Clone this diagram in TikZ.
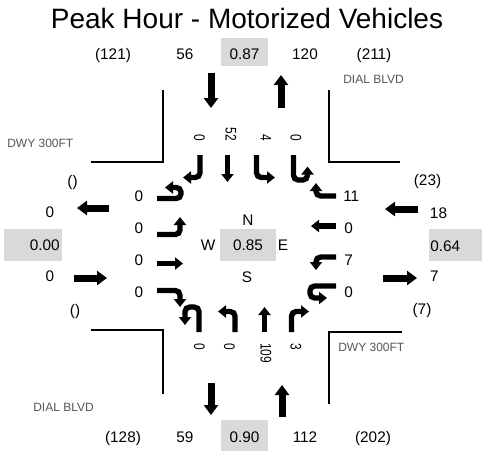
\documentclass[tikz,border=0pt]{standalone}
\usepackage{fontspec}
\setmainfont{Liberation Sans}
\newfontfamily\narrowfont{Liberation Sans}[FakeStretch=0.78]
\usepackage{tikz}
\usetikzlibrary{arrows.meta}
\definecolor{BoxGray}{RGB}{217,217,217}
\definecolor{StreetGray}{RGB}{85,85,85}

\begin{document}
\begin{tikzpicture}[x=0.75pt,y=-0.75pt,
    bigarrow/.style={line width=5.25pt,-{Triangle[width=10.5pt,length=7.5pt]}},
    turnarrow/.style={line width=4pt,rounded corners=3.5pt,-{Triangle[width=9pt,length=6pt]}},
    num/.style={font=\fontsize{11.5}{13}\selectfont,inner sep=0pt,anchor=base},
    vnum/.style={font=\narrowfont\fontsize{11.5}{13}\selectfont,inner sep=0pt,rotate=-90},
    street/.style={StreetGray,font=\fontsize{9}{10}\selectfont,inner sep=0pt,anchor=base west},
    curb/.style={line width=1.5pt}]
  \useasboundingbox (0,0) rectangle (482,451);
  \node[inner sep=0pt,anchor=base,font=\fontsize{21}{24}\selectfont] (title) at (247,28) {Peak Hour - Motorized Vehicles};
  \fill[BoxGray] (221,38) rectangle (268,66);
  \fill[BoxGray] (221,420) rectangle (268,451);
  \fill[BoxGray] (4,229) rectangle (62,261);
  \fill[BoxGray] (429,229) rectangle (482,261);
  \fill[BoxGray] (220,229) rectangle (276,261);
  \draw[curb] (163,90) -- (163,162) -- (91,162);
  \draw[curb] (329,90) -- (329,162) -- (400,162);
  \draw[curb] (91,330) -- (163,330) -- (163,394);
  \draw[curb] (402,332) -- (329,332) -- (329,404);
  \node[num] (nTotIn) at (113,59.5) {(121)};
  \node[num] (nExit) at (185,59.5) {56};
  \node[num] (nPhf) at (244.5,59.5) {0.87};
  \node[num] (nEnter) at (305,59.5) {120};
  \node[num] (nTotOut) at (374,59.5) {(211)};
  \node[num] (sTotOut) at (123,442) {(128)};
  \node[num] (sExit) at (185,442) {59};
  \node[num] (sPhf) at (244.5,442) {0.90};
  \node[num] (sEnter) at (305,442) {112};
  \node[num] (sTotIn) at (373,442) {(202)};
  \node[num] (wTotOut) at (72.5,186) {()};
  \node[num] (wExit) at (50,217) {0};
  \node[num,anchor=base east] (wPhf) at (60,250) {0.00};
  \node[num] (wEnter) at (50,281) {0};
  \node[num] (wTotIn) at (75,315) {()};
  \node[num] (eTotIn) at (427.5,185) {(23)};
  \node[num] (eEnter) at (438.5,218) {18};
  \node[num,anchor=base west] (ePhf) at (430,251) {0.64};
  \node[num] (eExit) at (434.5,281) {7};
  \node[num] (eTotOut) at (422,314) {(7)};
  \node[street] (stNE) at (343,83.5) {DIAL BLVD};
  \node[street] (stNW) at (7,147) {DWY 300FT};
  \node[street] (stSW) at (33,411) {DIAL BLVD};
  \node[street] (stSE) at (338,351) {DWY 300FT};
  \node[num] (cN) at (248,225) {N};
  \node[num] (cW) at (208,250) {W};
  \node[num] (cPhf) at (248,250) {0.85};
  \node[num] (cE) at (283,250) {E};
  \node[num] (cS) at (247,282) {S};
  \node[vnum,anchor=east] (sbR) at (199.5,141) {0};
  \node[vnum,anchor=east] (sbT) at (231,141) {52};
  \node[vnum,anchor=east] (sbL) at (266,141) {4};
  \node[vnum,anchor=east] (sbU) at (296,141) {0};
  \node[vnum,anchor=west] (nbU) at (199.5,343) {0};
  \node[vnum,anchor=west] (nbL) at (229.5,343) {0};
  \node[vnum,anchor=west] (nbT) at (266,343) {109};
  \node[vnum,anchor=west] (nbR) at (296,343) {3};
  \node[num] (ebU) at (139,201.5) {0};
  \node[num] (ebL) at (139,233) {0};
  \node[num] (ebT) at (139,265) {0};
  \node[num] (ebR) at (139,297) {0};
  \node[num,anchor=base west] (wbR) at (343,201.5) {11};
  \node[num,anchor=base west] (wbT) at (344,233) {0};
  \node[num,anchor=base west] (wbL) at (344,265) {7};
  \node[num,anchor=base west] (wbU) at (344,297) {0};
  \draw[bigarrow] (211,73) -- (211,108);
  \draw[bigarrow] (281,108) -- (281,75);
  \draw[bigarrow] (211,383) -- (211,415);
  \draw[bigarrow] (282,417) -- (282,385);
  \draw[bigarrow] (109,208) -- (77,208);
  \draw[bigarrow] (74,278) -- (107,278);
  \draw[bigarrow] (418,209) -- (385,209);
  \draw[bigarrow] (383,278) -- (417,278);
  \draw[turnarrow] (157,198.5) -- (181,198.5) -- (181,187.5) -- (165,187.5);
  \draw[turnarrow] (157,234.5) -- (180,234.5) -- (180,217);
  \draw[turnarrow] (157,263.5) -- (183,263.5);
  \draw[turnarrow] (157,290.5) -- (180,290.5) -- (180,307);
  \draw[turnarrow] (200,155) -- (200,177.5) -- (183,177.5);
  \draw[turnarrow] (227.5,155) -- (227.5,182);
  \draw[turnarrow] (256.5,155) -- (256.5,177.5) -- (275,177.5);
  \draw[turnarrow] (293.5,155) -- (293.5,180) -- (307.5,180) -- (307.5,166.5);
  \draw[turnarrow] (336,196) -- (316,196) -- (316,183);
  \draw[turnarrow] (336,226) -- (311,226);
  \draw[turnarrow] (336,257) -- (316,257) -- (316,270);
  \draw[turnarrow] (336,286) -- (310,286) -- (310,298) -- (327,298);
  \draw[turnarrow] (199,332) -- (199,307) -- (185,307) -- (185,325);
  \draw[turnarrow] (235,332) -- (235,311.5) -- (218,311.5);
  \draw[turnarrow] (264.5,332) -- (264.5,307);
  \draw[turnarrow] (291.5,332) -- (291.5,311.5) -- (309,311.5);
\end{tikzpicture}
\end{document}
